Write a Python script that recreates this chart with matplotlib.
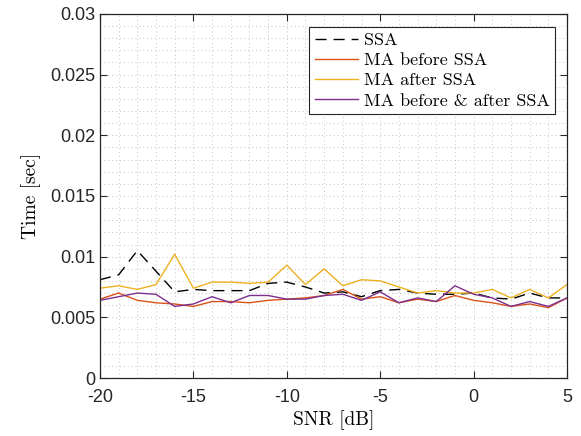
import numpy as np
import matplotlib.pyplot as plt
from matplotlib.ticker import MultipleLocator

plt.rcParams['font.family'] = ['Liberation Sans', 'DejaVu Sans']
cm_font = ['cmr10', 'DejaVu Serif']

snr = np.arange(-20, 6)

ssa = [0.0081, 0.0085, 0.0105, 0.0088, 0.0071, 0.0073, 0.0072, 0.0072, 0.0072, 0.0078,
       0.0079, 0.0075, 0.0070, 0.0071, 0.0067, 0.0072, 0.0073, 0.0070, 0.0069, 0.0069,
       0.0070, 0.0066, 0.0065, 0.0070, 0.0066, 0.0066]
ma_before = [0.0065, 0.0070, 0.0064, 0.0062, 0.0061, 0.0059, 0.0063, 0.0063, 0.0062, 0.0064,
             0.0065, 0.0066, 0.0068, 0.0073, 0.0065, 0.0067, 0.0062, 0.0065, 0.0063, 0.0068,
             0.0064, 0.0062, 0.0059, 0.0061, 0.0058, 0.0066]
ma_after = [0.0074, 0.0076, 0.0073, 0.0077, 0.0102, 0.0074, 0.0079, 0.0079, 0.0078, 0.0079,
            0.0093, 0.0077, 0.0090, 0.0076, 0.0081, 0.0080, 0.0075, 0.0070, 0.0072, 0.0070,
            0.0070, 0.0073, 0.0066, 0.0073, 0.0066, 0.0077]
ma_both = [0.0064, 0.0067, 0.0070, 0.0069, 0.0059, 0.0061, 0.0067, 0.0062, 0.0068, 0.0068,
           0.0065, 0.0065, 0.0068, 0.0069, 0.0064, 0.0071, 0.0062, 0.0066, 0.0063, 0.0076,
           0.0069, 0.0066, 0.0059, 0.0063, 0.0059, 0.0066]

yticks = [0, 0.005, 0.01, 0.015, 0.02, 0.025, 0.03]
ytick_labels = ['0', '0.005', '0.01', '0.015', '0.02', '0.025', '0.03']
xticks = [-20, -15, -10, -5, 0, 5]
xtick_labels = ['-20', '-15', '-10', '-5', '0', '5']

fig = plt.figure(figsize=(5.81, 4.36), dpi=100)
ax = fig.add_axes([0.172, 0.133, 0.804, 0.835])

ax.plot(snr, ssa, color='black', linestyle=(0, (8, 5)), linewidth=1.0, label='SSA')
ax.plot(snr, ma_before, color='#D95319', linewidth=1.0, label='MA before SSA')
ax.plot(snr, ma_after, color='#EDB120', linewidth=1.0, label='MA after SSA')
ax.plot(snr, ma_both, color='#7E2F8E', linewidth=1.0, label='MA before & after SSA')

ax.set_xlim(-20, 5)
ax.set_ylim(0, 0.03)
ax.set_xticks(xticks)
ax.set_xticklabels(xtick_labels)
ax.set_yticks(yticks)
ax.set_yticklabels(ytick_labels)
ax.xaxis.set_minor_locator(MultipleLocator(1))
ax.yaxis.set_minor_locator(MultipleLocator(0.001))

ax.grid(which='both', color='#c4c4c4', linestyle=(0, (1, 3)), linewidth=0.7)
ax.tick_params(which='both', direction='in', top=True, right=True, labelsize=13,
               labelcolor='#262626', color='#262626')
ax.tick_params(which='minor', length=0)
ax.tick_params(which='major', length=5, width=0.8)
ax.tick_params(axis='x', pad=8)
for s in ax.spines.values():
    s.set_linewidth(0.9)
    s.set_color('#262626')

ax.set_xlabel('SNR [dB]', fontsize=14, family=cm_font, labelpad=3)
ax.set_ylabel('Time [sec]', fontsize=14, family=cm_font, labelpad=6)

leg = ax.legend(loc='upper right', prop={'family': cm_font, 'size': 13},
                fancybox=False, edgecolor='#262626',
                framealpha=1, handlelength=2.4, handletextpad=0.3, borderpad=0.3,
                labelspacing=0.25, borderaxespad=0,
                bbox_to_anchor=(0.974, 0.964))
leg.get_frame().set_linewidth(0.8)

fig.savefig('out.png', dpi=100)
